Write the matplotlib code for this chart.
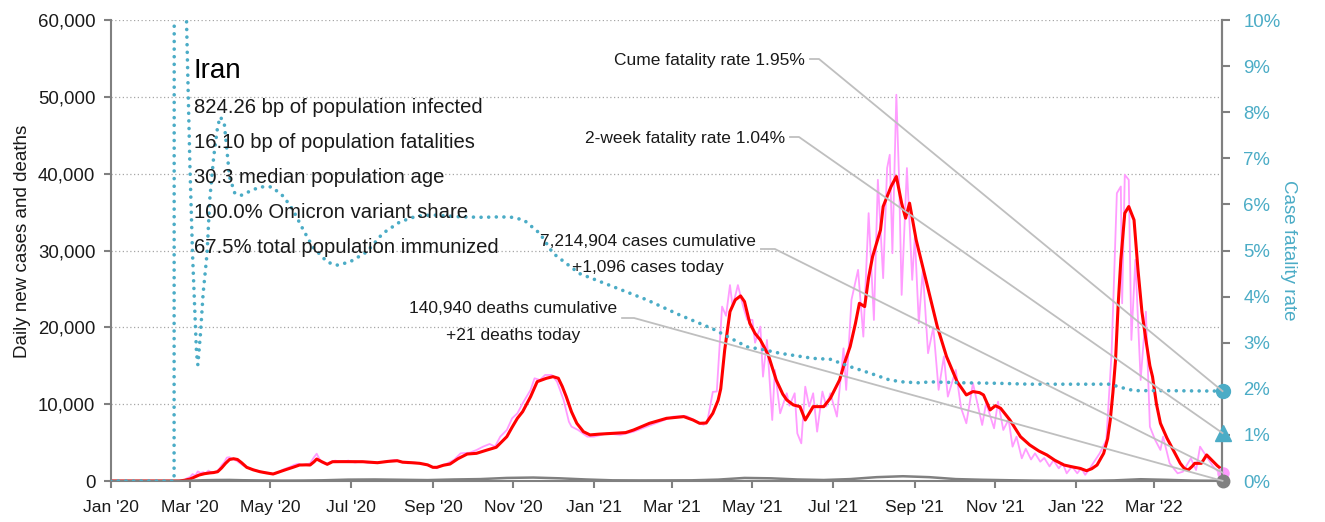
import numpy as np
import pandas as pd
import matplotlib
matplotlib.use("Agg")
import matplotlib.pyplot as plt
import matplotlib.dates as mdates
from matplotlib.ticker import StrMethodFormatter, FixedLocator
from matplotlib.lines import Line2D
from matplotlib.transforms import IdentityTransform

# ---------------------------------------------------------------- data
START = pd.Timestamp("2020-01-01")
END = pd.Timestamp("2022-04-22")

# reported daily new cases (day = days since 1 Jan 2020)
raw_days = [0, 48, 50, 53, 56, 58, 60, 62, 64, 66, 68, 70, 72, 74, 76, 78, 80, 82, 84, 86,
            88, 90, 92, 94, 96, 98, 100, 103, 106, 109, 112, 115, 118, 121, 124, 127, 130,
            133, 136, 139, 142, 145, 148, 151, 154, 156, 158, 160, 163, 166, 170, 175, 180,
            185, 190, 195, 200, 205, 210, 215, 220, 225, 230, 234, 240, 244, 247, 250, 255,
            260, 265, 272, 277, 282, 287, 291, 295, 300, 304, 308, 312, 318, 321, 325, 329,
            334, 338, 343, 347, 349, 354, 361, 366, 376, 386, 396, 406, 416, 426, 436, 444,
            449, 452, 456, 459, 463, 466, 469, 471, 475, 479, 482, 486, 488, 492, 494, 497,
            501, 503, 507, 512, 514, 518, 520, 523, 526, 529, 532, 535, 539, 542, 545, 550,
            555, 557, 561, 566, 570, 574, 578, 581, 585, 588, 590, 592, 595, 597, 599, 603,
            607, 609, 612, 615, 619, 623, 627, 631, 634, 640, 644, 648, 653, 660, 663, 669,
            672, 676, 680, 683, 686, 690, 693, 697, 700, 704, 707, 711, 714, 718, 721, 724,
            728, 732, 735, 738, 741, 744, 749, 754, 758, 762, 765, 766, 768, 771, 773, 776,
            780, 784, 787, 791, 795, 797, 802, 808, 812, 818, 822, 825, 830, 835, 840, 842]
raw_cases = [0, 0, 5, 40, 140, 380, 500, 900, 700, 1250, 1050, 1150, 1000, 1350, 1150, 1050,
             1250, 1500, 2050, 2450, 3050, 3100, 2850, 2750, 2550, 2300, 2050, 1800, 1600,
             1450, 1300, 1150, 1100, 1000, 900, 1100, 1450, 1650, 1850, 2100, 2250, 2050,
             2150, 2300, 3100, 3550, 2900, 2400, 2200, 2450, 2650, 2500, 2650, 2400, 2550,
             2350, 2400, 2450, 2600, 2750, 2500, 2300, 2400, 2300, 2050, 1800, 1650, 1950,
             2300, 2750, 3600, 3690, 4030, 4470, 4820, 4470, 5770, 6640, 8160, 8810, 10120,
             11860, 13370, 13150, 13800, 13800, 12930, 10550, 7720, 7070, 6640, 5770, 5770,
             6200, 6000, 6420, 7070, 7720, 8380, 8460, 7720, 7300, 7900, 11600, 11650, 22700,
             21500, 25500, 22700, 25500, 22700, 21000, 20960, 18000, 20100, 13580, 18360,
             7940, 14450, 8810, 11420, 9800, 11420, 6200, 4900, 12280, 9700, 11420, 6420,
             11640, 9700, 11420, 8380, 17270, 11860, 23570, 27480, 18790, 34860, 20960,
             39200, 26400, 40730, 42460, 29650, 50270, 39630, 24220, 40730, 26180, 31820,
             20530, 27480, 16630, 20000, 11860, 16200, 10980, 14450, 9500, 7510, 12730, 7290,
             10120, 6860, 10330, 6640, 8000, 4470, 5770, 2950, 4200, 2800, 3600, 2510, 3000,
             1900, 2700, 1650, 2300, 1000, 1900, 1000, 1700, 800, 1500, 2300, 3600, 5340,
             16630, 37460, 38330, 23130, 39850, 39200, 18360, 28780, 13150, 22040, 7070,
             5340, 4040, 5770, 2300, 1000, 1210, 2950, 1430, 4470, 3170, 1860, 1000, 1096]

# 7-day average of new cases
avg_days = [0, 52, 56, 60, 64, 67, 71, 75, 78, 81, 84, 87, 90, 93, 96, 99, 103, 108, 113,
            118, 123, 128, 133, 138, 143, 148, 151, 154, 156, 160, 164, 168, 175, 185, 191,
            196, 202, 210, 217, 221, 228, 234, 240, 244, 247, 252, 257, 263, 270, 277, 285,
            292, 300, 304, 308, 312, 318, 323, 330, 335, 339, 342, 345, 349, 353, 358, 363,
            370, 380, 390, 396, 408, 421, 434, 441, 446, 451, 456, 460, 462, 465, 469, 473,
            477, 480, 484, 488, 492, 498, 504, 509, 512, 517, 522, 526, 532, 540, 545, 552,
            556, 560, 564, 567, 571, 574, 577, 583, 585, 591, 595, 599, 602, 605, 610, 618,
            626, 633, 641, 648, 653, 658, 661, 666, 670, 674, 681, 689, 696, 703, 709, 715,
            722, 728, 734, 739, 743, 747, 752, 755, 757, 759, 761, 763, 765, 768, 771, 775,
            778, 781, 784, 787, 789, 792, 795, 800, 806, 810, 813, 816, 819, 821, 826, 830,
            835, 838, 842]
avg_cases = [0, 0, 100, 250, 550, 780, 950, 1050, 1100, 1210, 1700, 2300, 2800, 2900, 2800,
             2400, 1780, 1450, 1210, 1050, 910, 1210, 1500, 1780, 2080, 2100, 2080, 2500,
             2860, 2500, 2170, 2510, 2520, 2510, 2510, 2450, 2380, 2550, 2640, 2450, 2380,
             2300, 2100, 1780, 1780, 2050, 2210, 2900, 3510, 3600, 4030, 4390, 5770, 7000,
             8160, 9030, 10980, 12930, 13370, 13580, 13370, 12300, 10980, 9000, 7510, 6420,
             6000, 6100, 6200, 6300, 6640, 7510, 8160, 8380, 7940, 7510, 7550, 8810, 10500,
             12000, 17060, 22040, 23570, 24090, 23350, 20530, 19200, 18360, 16410, 13150,
             11300, 10550, 9900, 9680, 7940, 9680, 9680, 10770, 13150, 15500, 17490, 20500,
             23130, 22700, 26500, 29210, 32680, 35720, 38330, 39630, 36160, 34210, 36160,
             31390, 25750, 20100, 16200, 12930, 11200, 11640, 11500, 11200, 9250, 9800, 9460,
             7940, 5770, 4690, 3900, 3390, 2700, 2080, 1850, 1650, 1340, 1600, 2080, 3600,
             5500, 7940, 11500, 15750, 23000, 28780, 34860, 35720, 33970, 27480, 22000,
             18360, 15000, 13580, 10000, 7510, 5560, 3600, 2300, 1650, 1430, 1900, 2300,
             2300, 3390, 2510, 2000, 1430]

# daily deaths
death_days = [0, 49, 55, 60, 70, 80, 90, 100, 115, 130, 145, 160, 180, 200, 220, 240, 260,
              280, 300, 320, 340, 360, 380, 400, 420, 440, 460, 480, 500, 520, 540, 560, 580,
              600, 620, 640, 660, 680, 700, 720, 740, 760, 780, 800, 820, 842]
deaths = [0, 0, 10, 40, 100, 130, 140, 100, 70, 50, 60, 90, 180, 200, 160, 120, 200, 250,
          400, 450, 350, 200, 90, 75, 80, 90, 180, 400, 350, 200, 130, 250, 500, 620, 500,
          250, 160, 100, 50, 30, 25, 80, 230, 150, 50, 21]

# cumulative case fatality rate, percent
cfr_days = [0, 48, 49, 53, 57, 60, 62, 65, 66, 68, 70, 73, 75, 78, 81, 83, 86, 88, 90, 94,
            99, 105, 113, 122, 131, 138, 146, 153, 164, 171, 181, 194, 206, 219, 232, 244,
            265, 282, 295, 304, 313, 325, 335, 345, 355, 381, 406, 431, 456, 472, 482, 494,
            507, 532, 545, 560, 575, 590, 600, 611, 621, 646, 671, 696, 722, 757, 765, 775,
            795, 842]
cfr_pct = [0, 0, 100, 30, 10.5, 6.82, 4.9, 2.77, 2.52, 3.2, 4.07, 4.94, 6.1, 7.03, 7.69,
           7.9, 7.76, 7.18, 6.6, 6.24, 6.2, 6.28, 6.38, 6.38, 6.17, 5.88, 5.44, 5.08, 4.75,
           4.68, 4.75, 4.97, 5.37, 5.62, 5.75, 5.77, 5.73, 5.72, 5.73, 5.72, 5.66, 5.37,
           4.94, 4.72, 4.5, 4.21, 3.93, 3.6, 3.3, 3.06, 2.91, 2.85, 2.77, 2.66, 2.64, 2.48,
           2.34, 2.19, 2.15, 2.13, 2.15, 2.13, 2.12, 2.1, 2.1, 2.1, 2.03, 1.96, 1.96, 1.95]

total_cases = 7214904
total_deaths = 140940
cases_today = 1096
deaths_today = 21
cume_cfr = 1.95
twoweek_cfr = 1.04

country = "Iran"
country_stats = [
    "824.26 bp of population infected",
    "16.10 bp of population fatalities",
    "30.3 median population age",
    "100.0% Omicron variant share",
    "67.5% total population immunized",
]

# ---------------------------------------------------------------- style
FONT = "Liberation Sans"
plt.rcParams["font.family"] = [FONT, "DejaVu Sans"]

PINK = "#FF9CFF"
RED = "#FF0000"
GREY = "#808080"
TEAL = "#4BACC6"
LEADER = "#BFBFBF"
INK = "#1A1A1A"

W, H = 1325, 522
fig = plt.figure(figsize=(W / 100, H / 100), dpi=100)
ax = fig.add_axes([110.7 / W, 41 / H, 1111.8 / W, 461 / H])


def to_dates(days):
    return START + pd.to_timedelta(np.asarray(days, dtype=float), unit="D")


ax.plot(to_dates(raw_days), raw_cases, color=PINK, lw=1.3, zorder=2)
ax.plot(to_dates(avg_days), avg_cases, color=RED, lw=2.2, zorder=3)
ax.plot(to_dates(death_days), deaths, color=GREY, lw=1.8, zorder=4)

ax.set_xlim(START, END)
ax.set_ylim(0, 60000)
ax.yaxis.set_major_locator(FixedLocator(range(0, 60001, 10000)))
ax.yaxis.set_major_formatter(StrMethodFormatter("{x:,.0f}"))
ax.xaxis.set_major_locator(mdates.MonthLocator(bymonth=[1, 3, 5, 7, 9, 11]))
ax.xaxis.set_major_formatter(mdates.DateFormatter("%b '%y"))
ax.grid(axis="y", color="#A6A6A6", lw=0.9, linestyle=(0, (1, 2)))
ax.set_axisbelow(True)

ax.spines["top"].set_visible(False)
for side in ("left", "bottom", "right"):
    ax.spines[side].set_color(GREY)
    ax.spines[side].set_linewidth(1.5)
ax.tick_params(axis="y", colors=GREY, labelcolor=INK, labelsize=13.4, length=5,
               width=1.5, pad=6)
ax.tick_params(axis="x", colors=GREY, labelcolor=INK, labelsize=12.6, length=5,
               width=1.5, pad=9)
ax.set_ylabel("Daily new cases and deaths", fontsize=13.5, color=INK, labelpad=5)
ax.yaxis.label.set_y(0.52)

# case fatality rate on the secondary axis
ax2 = ax.twinx()
ax2.plot(to_dates(cfr_days), cfr_pct, color=TEAL, lw=2.6,
         linestyle=(0, (0.01, 2.1)), dash_capstyle="round", zorder=5)
ax2.set_ylim(0, 10)
ax2.yaxis.set_major_locator(FixedLocator(range(0, 11)))
ax2.yaxis.set_major_formatter(StrMethodFormatter("{x:.0f}%"))
ax2.spines["top"].set_visible(False)
ax2.spines["right"].set_color(GREY)
ax2.spines["right"].set_linewidth(1.5)
ax2.spines["left"].set_visible(False)
ax2.spines["bottom"].set_visible(False)
ax2.tick_params(axis="y", colors=GREY, labelcolor=TEAL, labelsize=13.4, length=6,
                width=1.5, pad=9)
ax2.set_ylabel("Case fatality rate", fontsize=13.5, color=TEAL, rotation=270,
               labelpad=12)

# end-of-series markers
end_x = mdates.date2num(END)
ax2.plot([end_x], [cume_cfr], "o", color=TEAL, ms=10, clip_on=False, zorder=10)
ax2.plot([end_x], [twoweek_cfr], "^", color=TEAL, ms=11, clip_on=False, zorder=10)
ax.plot([end_x], [cases_today], "o", color=PINK, ms=8, clip_on=False, zorder=10)
ax.plot([end_x], [deaths_today], "o", color=GREY, ms=9, clip_on=False, zorder=10)


# ---------------------------------------------------------------- text
def fpos(x, y):
    """pixel position measured from the top-left corner -> figure fraction"""
    return x / W, 1 - y / H


fig.text(*fpos(194, 78), country, fontsize=20, color="black", va="baseline", ha="left")
for i, line in enumerate(country_stats):
    fig.text(*fpos(194, 113 + 35 * i), line, fontsize=14.6, color=INK,
             va="baseline", ha="left")

t_cume = fig.text(*fpos(805, 65), f"Cume fatality rate {cume_cfr:.2f}%", fontsize=12.5,
                  color=INK, ha="right", va="baseline")
t_2wk = fig.text(*fpos(785, 143), f"2-week fatality rate {twoweek_cfr:.2f}%",
                 fontsize=12.5, color=INK, ha="right", va="baseline")
t_cases = fig.text(*fpos(648, 246), f"{total_cases:,} cases cumulative", fontsize=12.5,
                   color=INK, ha="center", va="baseline")
fig.text(*fpos(648, 272), f"+{cases_today:,} cases today", fontsize=12.5, color=INK,
         ha="center", va="baseline")
t_deaths = fig.text(*fpos(513, 313), f"{total_deaths:,} deaths cumulative", fontsize=12.5,
                    color=INK, ha="center", va="baseline")
fig.text(*fpos(513, 340), f"+{deaths_today:,} deaths today", fontsize=12.5, color=INK,
         ha="center", va="baseline")

# leader lines from labels to the end markers
fig.canvas.draw()
renderer = fig.canvas.get_renderer()


def leader(text, y_img, stub, target):
    bb = text.get_window_extent(renderer)
    x0 = bb.x1 + 5
    y0 = H - y_img
    tx, ty = target
    fig.add_artist(Line2D([x0, x0 + stub, tx], [y0, y0, ty], color=LEADER, lw=1.3,
                          transform=IdentityTransform(), zorder=1))


leader(t_cume, 59, 9, ax2.transData.transform((end_x, cume_cfr)))
leader(t_2wk, 137, 9, ax2.transData.transform((end_x, twoweek_cfr)))
leader(t_cases, 249, 14, ax.transData.transform((end_x, cases_today)))
leader(t_deaths, 318, 12, ax.transData.transform((end_x, deaths_today)))

fig.savefig("out.png", dpi=100)
